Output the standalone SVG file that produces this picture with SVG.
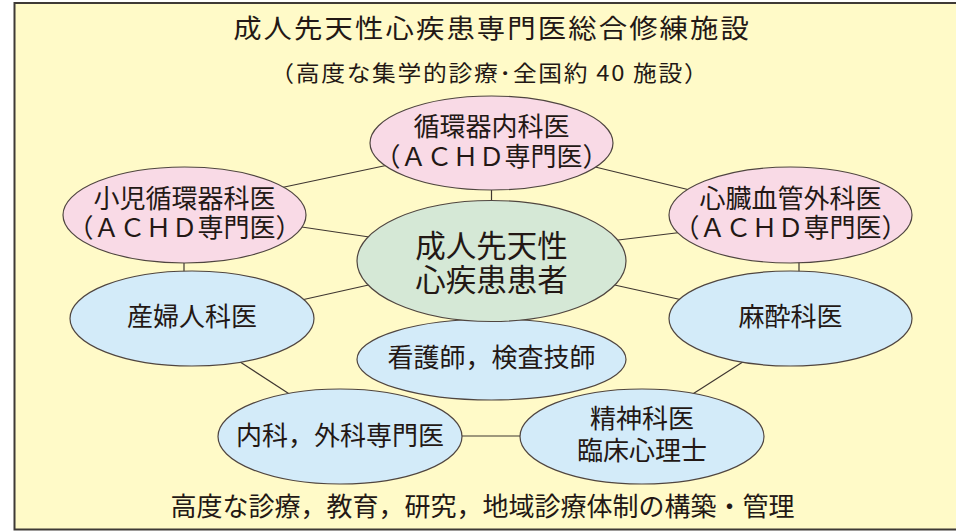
<svg xmlns="http://www.w3.org/2000/svg" width="956" height="531" viewBox="0 0 956 531">
<style>
text{font-family:"Noto Sans CJK JP","Noto Sans",sans-serif;fill:#231815;text-anchor:middle}
.t{font-size:26px}
.c{font-size:30.5px}
.pink{fill:#F9DAE6;stroke:#4f4540;stroke-width:1.2}
.green{fill:#D5E8D6;stroke:#4f4540;stroke-width:1.2}
.blue{fill:#D3EBF9;stroke:#4f4540;stroke-width:1.2}
.ln{stroke:#3f3630;stroke-width:1.2;fill:none}
</style>
<rect x="14.5" y="3" width="960" height="526.5" fill="#FFFAC8" stroke="#3f3a36" stroke-width="2"/>
<text transform="translate(491,38) scale(1.07,1)" x="0" y="0" font-size="26.5" textLength="482" lengthAdjust="spacing">成人先天性心疾患専門医総合修練施設</text>
<text transform="translate(489,80.5) scale(1.08,1)" x="0" y="0" font-size="22" textLength="405" lengthAdjust="spacing">（高度な集学的診療･全国約 40 施設）</text>
<g id="connectors">
<line class="ln" x1="491.5" y1="185" x2="491.5" y2="205"/>
<line class="ln" x1="275" y1="189" x2="393" y2="164"/>
<line class="ln" x1="295" y1="226" x2="376" y2="238"/>
<line class="ln" x1="184" y1="258" x2="184" y2="276"/>
<line class="ln" x1="297" y1="301" x2="373" y2="284"/>
<line class="ln" x1="587" y1="165" x2="698" y2="192"/>
<line class="ln" x1="610" y1="241" x2="684" y2="232"/>
<line class="ln" x1="799" y1="258" x2="799" y2="276"/>
<line class="ln" x1="610" y1="284" x2="687" y2="301"/>
<line class="ln" x1="234" y1="358" x2="294" y2="397"/>
<line class="ln" x1="455" y1="436" x2="527" y2="436"/>
<line class="ln" x1="749" y1="358" x2="688" y2="397"/>
</g>
<g id="n-junkanki">
<ellipse class="pink" cx="491.5" cy="143" rx="121.5" ry="47"/>
<text class="t" x="491.5" y="136">循環器内科医</text>
<text class="t" x="491.5" y="166">（ＡＣＨＤ専門医）</text>
</g>
<g id="n-shoni">
<ellipse class="pink" cx="184.5" cy="215" rx="121.5" ry="48"/>
<text class="t" x="184.5" y="207.5">小児循環器科医</text>
<text class="t" x="184.5" y="237">（ＡＣＨＤ専門医）</text>
</g>
<g id="n-shinzo">
<ellipse class="pink" cx="790.5" cy="215" rx="121.5" ry="48"/>
<text class="t" x="790.5" y="207.5">心臓血管外科医</text>
<text class="t" x="790.5" y="237">（ＡＣＨＤ専門医）</text>
</g>
<g id="n-sanfu">
<ellipse class="blue" cx="192" cy="318.5" rx="122" ry="47.5"/>
<text class="t" x="192" y="326">産婦人科医</text>
</g>
<g id="n-masui">
<ellipse class="blue" cx="790.5" cy="318.5" rx="121.5" ry="47.5"/>
<text class="t" x="790.5" y="326">麻酔科医</text>
</g>
<g id="n-kango">
<ellipse class="blue" cx="491.5" cy="359.5" rx="134.5" ry="40.5"/>
<text class="t" x="491.5" y="367">看護師，検査技師</text>
</g>
<g id="n-center">
<ellipse class="green" cx="491.5" cy="261" rx="134.5" ry="60.5"/>
<text class="c" x="491.5" y="257">成人先天性</text>
<text class="c" x="491.5" y="290.5">心疾患患者</text>
</g>
<g id="n-naika">
<ellipse class="blue" cx="340" cy="436.5" rx="122" ry="47.5"/>
<text class="t" x="340" y="445">内科，外科専門医</text>
</g>
<g id="n-seishin">
<ellipse class="blue" cx="642" cy="436.5" rx="122" ry="47.5"/>
<text class="t" x="642" y="428">精神科医</text>
<text class="t" x="642" y="460">臨床心理士</text>
</g>
<text class="t" x="482.5" y="516">高度な診療，教育，研究，地域診療体制の構築・管理</text>
</svg>
